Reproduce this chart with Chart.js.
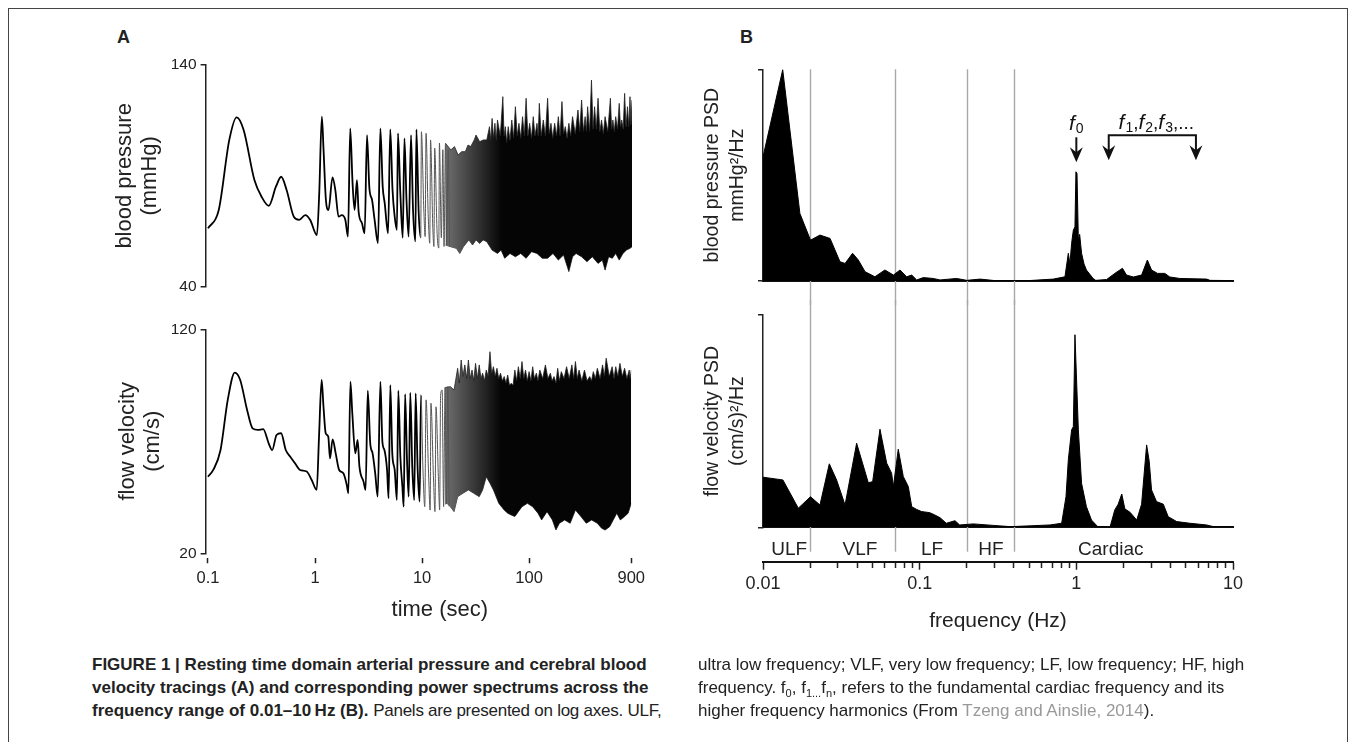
<!DOCTYPE html>
<html>
<head>
<meta charset="utf-8">
<script src="https://cdn.jsdelivr.net/npm/chart.js@4.4.1/dist/chart.umd.min.js"></script>
<style>
  html, body { margin: 0; padding: 0; background: #fff; width: 1355px; height: 742px; overflow: hidden;
    font-family: "Liberation Sans", Arial, sans-serif; color: #222; }
  #frame { position: absolute; left: 8px; top: 8px; width: 1338px; height: 820px; border: 1.5px solid #444; }
  canvas { position: absolute; }
  .panel { position: absolute; font-weight: bold; font-size: 18px; line-height: 20px; }
  .cap { position: absolute; font-size: 17px; line-height: 23px; white-space: nowrap; color: #222; }
  .cap sub { font-size: 11px; line-height: 0; }
  .ref { color: #999; }
</style>
</head>
<body>
<div id="frame"></div>
<div class="panel" style="left:117px;top:27px">A</div>
<div class="panel" style="left:740px;top:27px">B</div>

<canvas id="bp" width="570" height="265" style="left:80px;top:40px"></canvas>
<canvas id="cbv" width="570" height="340" style="left:80px;top:300px"></canvas>
<canvas id="bpPsd" width="570" height="265" style="left:690px;top:40px"></canvas>
<canvas id="cbvPsd" width="570" height="340" style="left:690px;top:300px"></canvas>

<div class="cap" style="left:92px;top:653px"><b>FIGURE 1 | Resting time domain arterial pressure and cerebral blood<br>velocity tracings (A) and corresponding power spectrums across the<br>frequency range of 0.01–10&#8201;Hz (B).</b> <span style="letter-spacing:-0.25px">Panels are presented on log axes. ULF,</span></div>
<div class="cap" style="left:698px;top:653px">ultra low frequency; VLF, very low frequency; LF, low frequency; HF, high<br>frequency. f<sub>0</sub>, f<sub>1...</sub>f<sub>n</sub>, refers to the fundamental cardiac frequency and its<br>higher frequency harmonics (From <span class="ref">Tzeng and Ainslie, 2014</span>).</div>

<script>
// panel A: time (s) vs value
const bpTrace = [[0.1,66.3],[0.126,74.6],[0.158,106.2],[0.185,116.4],[0.215,110.7],[0.271,88.1],[0.316,80.6],[0.369,76.5],[0.43,85.1],[0.482,89.6],[0.541,83.6],[0.631,71.6],[0.708,70.1],[0.807,72.3],[0.898,70.1],[1.037,63.3],[1.09,82.1],[1.153,116.7],[1.196,101.7],[1.258,79.1],[1.33,74.6],[1.45,89.3],[1.54,83.6],[1.65,71.6],[1.77,72.3],[1.91,70.1],[2.02,62.6],[2.12,111.4],[2.23,86.6],[2.33,74.6],[2.45,88.1],[2.54,73.8],[2.73,68.6],[2.89,64.1],[3.04,108.4],[3.2,84.4],[3.39,79.1],[3.58,70.1],[3.85,59.6],[4.05,111.4],[4.26,85.1],[4.45,77.6],[4.78,64.1],[5.01,111],[5.26,83.6],[5.51,71.6],[5.78,65.6],[5.91,109.2],[6.22,82.1],[6.55,62.1],[6.79,106.9],[7.1,79.1],[7.43,62.6],[7.82,108.4],[8.17,74.6],[8.59,60.4],[8.78,111],[9.23,73.1],[9.64,62.1],[9.78,109.9],[10.3,74.6],[10.6,62.6],[10.8,109.2],[11.3,73.1],[11.7,59.6],[11.9,106.2],[12.5,66.3],[12.8,58.1],[13.0,102.5],[13.7,64.1],[14.2,57.4],[14.4,104.8],[15.0,62.1],[15.5,101.8],[15.9,58.1],[16.4,104.7],[16.8,58.8],[17.4,101.7],[17.9,58]];
const bpUpper = [[16.4,104.7],[18.4,101.7],[19.9,103.2],[21.5,99.4],[23.2,100.9],[25.1,100.9],[26.6,103.9],[28.2,103.2],[30.4,106.2],[31.6,108.4],[34.2,105.4],[36.8,106.2],[39.8,106.2],[42.2,112.2],[43.4,106],[44.6,115.9],[46,107],[47.4,113.7],[48.8,106],[50.1,115.2],[53.2,108],[56.2,125.7],[57.7,108],[59.3,112.2],[61,105],[63.1,112.2],[65.5,106],[68.1,115.2],[70.8,107],[73.6,121.2],[76.5,108],[79.4,113.7],[82.6,107],[85.8,116.7],[89.2,108],[92.6,125],[96.2,108],[100,113.7],[104,107],[108,116.7],[112,108],[117,113.7],[120,108],[123,122.7],[128,108],[134,115.2],[140,108],[147,125],[152,109],[158,113.7],[164,107],[171,113.7],[178,108],[185,116.7],[192,108],[200,123.5],[207,109],[215,112.2],[223,107],[232,113.7],[241,108],[251,116.7],[266,109],[282,119.7],[293,110],[305,124.2],[317,110],[329,116.7],[338,110],[347,121.2],[362,110],[377,133.2],[390,111],[403,121.2],[418,111],[434,125],[451,110],[468,115.2],[486,109],[505,116.7],[535,110],[566,125],[581,111],[597,115.2],[615,110],[634,116.7],[659,111],[684,122.7],[703,112],[722,115.2],[745,111],[768,127.2],[792,112],[817,121.2],[840,112],[862,125.7],[880,113],[900,124.2]];
const bpLower = [[16.4,58.8],[18.4,58.0],[20.7,57.3],[22.3,55.0],[24.1,58.0],[27.1,61.1],[29.3,58.8],[31.6,61.1],[34.2,59.5],[36.8,61.1],[39.8,60.3],[44.6,56.5],[50.1,55.0],[54.1,56.5],[58.5,52.8],[65.6,55.0],[73.6,53.5],[82.5,55.0],[92.6,52.8],[104,55.8],[117,55.0],[131,52.8],[147,52.8],[165,55.0],[185,52.0],[207,54.3],[232,46.8],[251,53.5],[271,55.0],[305,53.5],[342,51.3],[384,53.5],[434,50.5],[476,52.0],[505,47.5],[545,53.5],[590,52.8],[634,55.0],[684,52.0],[741,55.0],[800,56.5],[862,57.3],[900,58.0]];

const cbvTrace = [[0.1,54.2],[0.112,57.2],[0.131,66.1],[0.153,88.5],[0.178,100.7],[0.2,97.4],[0.232,84],[0.261,75.8],[0.293,75.1],[0.328,75.4],[0.369,69.1],[0.398,66.1],[0.437,72.8],[0.482,73.6],[0.533,66.1],[0.585,63.2],[0.65,60.2],[0.724,57.2],[0.836,56.5],[0.931,52.7],[1.037,48.3],[1.09,72.1],[1.153,97.4],[1.2,85.4],[1.258,73.6],[1.33,72.1],[1.38,62.4],[1.46,70.9],[1.56,64.6],[1.68,57.2],[1.84,55.7],[1.98,50.5],[2.05,46.8],[2.14,96.6],[2.23,82.5],[2.38,64.6],[2.5,70.6],[2.6,58.7],[2.84,52],[2.97,48.3],[3.11,92.6],[3.28,69.1],[3.45,64.6],[3.65,55.7],[3.85,45.3],[4.08,96.6],[4.26,69.8],[4.45,66.1],[4.71,57.2],[4.87,44.6],[5.05,95.1],[5.27,64.6],[5.55,57.2],[5.82,43.8],[6.0,92.6],[6.27,63.1],[6.55,49.7],[6.74,40.8],[6.94,91.1],[7.25,60.2],[7.5,45.3],[7.76,91.7],[8.1,58.7],[8.45,43.8],[8.71,91.4],[9.1,57.2],[9.49,43.1],[9.77,90.7],[10.2,57.2],[10.6,40.8],[10.9,88.5],[11.5,55.7],[11.9,39.3],[12.1,87],[12.8,52.7],[13.2,38.6],[13.5,85.4],[14.2,54.2],[14.6,39.3],[14.9,90.7],[15.4,92.9],[15.9,40.8],[16.4,94],[16.9,42],[17.4,94.4],[17.9,41]];
const cbvUpper = [[16.4,94],[18.4,94.4],[19.9,92.9],[21.5,102.6],[22.3,96],[23.2,106.3],[24.1,99],[25.1,104.1],[26.1,98],[27.1,106.3],[28.2,98],[29.3,101.8],[30.4,97],[31.6,104.8],[32.9,98],[34.2,104.1],[35.5,98],[36.8,100.4],[38.3,97],[39.8,101.8],[41.4,99],[43.1,110],[44.7,100],[46.4,103.3],[48.2,99],[50.1,102.6],[52,98],[54.1,100.4],[56.3,97],[58.5,98.9],[60.8,96],[63.1,99.6],[65.6,95],[68.1,95.9],[70.8,95],[73.6,101.8],[76.5,97],[79.4,103.3],[82.6,98],[85.8,105.6],[89.2,98],[92.6,101.8],[96.2,97],[100,101.1],[104,97],[108,103.3],[112,98],[117,100.4],[121,97],[126,101.8],[134,98],[142,104.1],[150,98],[158,100.4],[164,97],[171,98.9],[178,96],[185,102.6],[192,97],[200,101.1],[212,98],[224,103.3],[237,98],[251,104.1],[261,98],[271,105.6],[282,98],[293,101.8],[311,97],[329,101.8],[348,97],[368,98.9],[383,97],[398,101.1],[416,98],[434,102.6],[460,98],[486,104.1],[505,99],[525,107.1],[561,99],[597,103.3],[621,98],[645,103.3],[675,99],[706,104.8],[743,99],[780,102.6],[820,98],[862,101.8],[880,98],[900,101.8]];
const cbvLower = [[16.4,42],[17.1,42.3],[18.4,40.8],[19.9,38.6],[21.5,45.3],[24.1,46.8],[27.1,48.3],[30.4,46.8],[34.2,45.3],[36.8,48.3],[39.8,54.2],[43.1,51.3],[46.4,48.3],[52.1,42.3],[58.5,39.3],[63.1,37.9],[68.1,37.1],[73.6,36.4],[79.4,38.6],[85.8,40.8],[96.4,42.3],[108,40.8],[121,37.9],[131,34.9],[147,38.6],[165,34.9],[178,30.4],[192,33.4],[215,34.9],[242,33.4],[271,39.3],[305,36.4],[342,33.4],[384,34.9],[434,33.4],[476,31.2],[513,30.4],[566,31.9],[611,34.9],[660,37.9],[711,34.9],[780,36.4],[842,37.9],[900,42.3]];

// panel B: frequency (Hz) vs power, arbitrary units (0-100 = axis height)
const bpPsd = [[0.01,58.6],[0.01336,99.8],[0.0172,31.9],[0.0201,19.3],[0.0231,21.7],[0.0268,20.1],[0.031,9.1],[0.0334,8.3],[0.0373,13.1],[0.0406,9.9],[0.0448,4.4],[0.0518,2.0],[0.06,5.2],[0.068,2.8],[0.0749,5.2],[0.0826,2.0],[0.089,2.8],[0.0957,0.5],[0.1055,1.6],[0.122,1.2],[0.135,0.5],[0.172,1.2],[0.2,0.3],[0.243,0.9],[0.3,0.2],[0.5,0.2],[0.713,0.9],[0.846,2],[0.889,13.1],[0.91,8],[0.933,17.8],[0.957,24],[0.98,25.6],[0.994,51.6],[1.01,50.8],[1.03,19.3],[1.05,22],[1.08,13.1],[1.12,8],[1.16,5.2],[1.28,1.2],[1.33,0.3],[1.56,0.7],[1.76,3.6],[1.97,6],[2.09,2.8],[2.31,1.9],[2.61,2.8],[2.84,9.9],[3.02,5.2],[3.3,3.6],[3.67,3.6],[3.95,1.9],[4.58,1.2],[6.79,0.9],[7.13,0.3],[10,0.2]];
const cbvPsd = [[0.01,23.6],[0.0134,22.3],[0.0168,9],[0.0201,14.4],[0.0231,10.5],[0.0265,29.9],[0.0295,22.3],[0.0334,10.5],[0.0396,39.6],[0.047,21],[0.0501,21.5],[0.0558,46.2],[0.0616,30.2],[0.0662,25.5],[0.068,19.2],[0.073,36.8],[0.0786,23.9],[0.0846,19.2],[0.089,9.7],[0.0957,8.4],[0.103,7.4],[0.116,6.9],[0.125,5.8],[0.135,4.5],[0.148,1.9],[0.168,3.1],[0.18,1.1],[0.22,1.6],[0.295,0.9],[0.38,0.3],[0.679,1.1],[0.806,1.9],[0.859,14.4],[0.889,31.8],[0.933,45.9],[0.957,47.4],[0.98,90.7],[1.0,72.6],[1.03,45.9],[1.08,20.7],[1.16,9.7],[1.25,3.4],[1.37,0.3],[1.64,0],[1.76,8.2],[1.85,10.9],[1.95,15.7],[2.04,8.7],[2.2,7.1],[2.43,3.4],[2.61,10.9],[2.7,23.9],[2.81,38.8],[2.92,31],[3.02,17.6],[3.25,12.1],[3.59,10.9],[3.86,5],[4.37,2.7],[5.31,1.9],[6.79,1.1],[7.5,0.3],[10,0.2]];

const TIME_TICKS = [0.1, 1, 10, 100, 900];
const FREQ_DECADES = [0.01, 0.1, 1];
const FREQ_MAJOR = [0.01, 0.1, 1, 10];
const BAND_EDGES = [0.02, 0.07, 0.2, 0.4];
const BAND_NAMES = ['ULF', 'VLF', 'LF', 'HF', 'Cardiac'];
const BAND_LABEL_AT = [0.0147, 0.0416, 0.12, 0.285, 1.66];
const F0_AT = 1;
const HARMONIC_SPAN = [1.61, 5.8];

const FONT = '"Liberation Sans", Arial, sans-serif';
Chart.defaults.font.family = FONT;
Chart.defaults.color = '#222';
Chart.defaults.animation = false;
Chart.defaults.plugins.legend.display = false;
Chart.defaults.plugins.tooltip.enabled = false;

const xy = arr => arr.map(([x, y]) => ({x, y}));
const freqTicks = FREQ_DECADES.flatMap(d => [1, 2, 3, 4, 5, 6, 7, 8, 9].map(m => +(m * d).toPrecision(3))).concat([10]);

function bracketAxis(min, max, title, o) {
  return {
    min, max,
    afterBuildTicks: s => { s.ticks = [{value: min}, {value: max}]; },
    afterFit: s => { s.width = o.width; },
    ticks: {display: o.labels, font: {size: 15.5}, padding: 4},
    grid: {drawOnChartArea: false, tickLength: 5, color: '#222', lineWidth: 1.5},
    border: {display: true, color: '#222', width: 1.5},
    title: {display: true, text: title, font: {size: o.size, lineHeight: o.lh}, padding: {top: o.pad, bottom: 0}}
  };
}

// dense part of the tracing: grey where beats are still apart, black later
function bandFill(context) {
  const chart = context.chart;
  if (!chart.chartArea) return '#000';
  const x = chart.scales.x;
  const g = chart.ctx.createLinearGradient(x.getPixelForValue(15), 0, x.getPixelForValue(55), 0);
  g.addColorStop(0, '#777');
  g.addColorStop(1, '#050505');
  return g;
}

function traceSets(trace, upper, lower) {
  return [
    {data: xy(trace), borderColor: '#000', borderWidth: 1.8, pointRadius: 0, cubicInterpolationMode: 'monotone',
      segment: {borderColor: c => c.p0.parsed.x >= 9.5 ? '#555' : undefined,
                borderWidth: c => c.p0.parsed.x >= 9.5 ? 1 : undefined}},
    {data: xy(upper), borderColor: '#222', borderWidth: 0.8, pointRadius: 0, fill: '+1', backgroundColor: bandFill},
    {data: xy(lower), borderColor: '#222', borderWidth: 0.8, pointRadius: 0, fill: false}
  ];
}

new Chart(document.getElementById('bp'), {
  type: 'line',
  data: {datasets: traceSets(bpTrace, bpUpper, bpLower)},
  options: {
    responsive: false, devicePixelRatio: 1,
    layout: {padding: {top: 25, right: 18, bottom: 18.3, left: 0}},
    scales: {
      x: {type: 'logarithmic', min: 0.095, max: 900, display: false},
      y: bracketAxis(40, 140, ['blood pressure', '(mmHg)'], {width: 125.6, labels: true, size: 22, lh: 1.15, pad: 32})
    }
  }
});

new Chart(document.getElementById('cbv'), {
  type: 'line',
  data: {datasets: traceSets(cbvTrace, cbvUpper, cbvLower)},
  options: {
    responsive: false, devicePixelRatio: 1,
    layout: {padding: {top: 29.3, right: 18, bottom: 0, left: 0}},
    scales: {
      x: {
        type: 'logarithmic', min: 0.095, max: 900,
        afterBuildTicks: s => { s.ticks = TIME_TICKS.map(value => ({value})); },
        afterFit: s => { s.height = 86.7; },
        ticks: {callback: v => String(v), font: {size: 16.5}, padding: 5, autoSkip: false, maxRotation: 0},
        grid: {drawOnChartArea: false, tickLength: 10, tickBorderDash: [0, 5, 5], tickColor: '#222', tickWidth: 1.5},
        border: {display: false},
        title: {display: true, text: '       time (sec)', font: {size: 22}, padding: {top: 0, bottom: 17}}
      },
      y: bracketAxis(20, 120, ['flow velocity', '(cm/s)'], {width: 125.6, labels: true, size: 22, lh: 1.15, pad: 35})
    }
  }
});

function drawBandLines(chart, y1, y2) {
  const {ctx} = chart, x = chart.scales.x;
  ctx.save();
  ctx.strokeStyle = '#a8a8a8';
  ctx.lineWidth = 1.4;
  BAND_EDGES.forEach(f => {
    const px = Math.round(x.getPixelForValue(f)) + 0.5;
    ctx.beginPath(); ctx.moveTo(px, y1); ctx.lineTo(px, y2); ctx.stroke();
  });
  ctx.restore();
}

function drawRich(ctx, parts, cx, baseline) {
  const fonts = {i: 'italic 21px ' + FONT, s: '14px ' + FONT, n: '19px ' + FONT};
  let w = 0;
  parts.forEach(([t, k]) => { ctx.font = fonts[k]; w += ctx.measureText(t).width + (k === 'i' ? 1 : 0); });
  let x = cx - w / 2;
  ctx.textAlign = 'left';
  ctx.textBaseline = 'alphabetic';
  parts.forEach(([t, k]) => {
    ctx.font = fonts[k];
    ctx.fillText(t, x, baseline + (k === 's' ? 3 : 0));
    x += ctx.measureText(t).width + (k === 'i' ? 1 : 0);
  });
}

function arrowHead(ctx, x, tip) {
  ctx.beginPath();
  ctx.moveTo(x, tip);
  ctx.lineTo(x - 6.5, tip - 15);
  ctx.lineTo(x, tip - 10);
  ctx.lineTo(x + 6.5, tip - 15);
  ctx.closePath();
  ctx.fill();
}

const harmonicMarks = {
  id: 'harmonicMarks',
  afterDatasetsDraw(chart) {
    const {ctx} = chart, xs = chart.scales.x, top = chart.chartArea.top;
    ctx.save();
    ctx.fillStyle = '#111';
    ctx.strokeStyle = '#111';
    ctx.lineWidth = 2;
    const x0 = xs.getPixelForValue(F0_AT);
    drawRich(ctx, [['f', 'i'], ['0', 's']], x0, top + 61);
    ctx.beginPath(); ctx.moveTo(x0, top + 68); ctx.lineTo(x0, top + 84); ctx.stroke();
    arrowHead(ctx, x0, top + 93);
    const xa = xs.getPixelForValue(HARMONIC_SPAN[0]), xb = xs.getPixelForValue(HARMONIC_SPAN[1]);
    drawRich(ctx, [['f', 'i'], ['1', 's'], [',', 'n'], ['f', 'i'], ['2', 's'], [',', 'n'], ['f', 'i'], ['3', 's'], [',...', 'n']], (xa + xb) / 2 + 4, top + 60);
    ctx.beginPath();
    ctx.moveTo(xa, top + 83); ctx.lineTo(xa, top + 66); ctx.lineTo(xb, top + 66); ctx.lineTo(xb, top + 83);
    ctx.stroke();
    arrowHead(ctx, xa, top + 91);
    arrowHead(ctx, xb, top + 91);
    ctx.restore();
  }
};

function psdY(title) {
  return bracketAxis(0, 100, title, {width: 73, labels: false, size: 19.5, lh: 1.28, pad: 10.5});
}

const psdSet = data => ({data: xy(data), borderColor: '#000', borderWidth: 1, pointRadius: 0, tension: 0,
  fill: 'origin', backgroundColor: '#000'});

new Chart(document.getElementById('bpPsd'), {
  type: 'line',
  data: {datasets: [psdSet(bpPsd)]},
  options: {
    responsive: false, devicePixelRatio: 1,
    layout: {padding: {top: 29.3, right: 27, bottom: 24, left: 0}},
    scales: {
      x: {type: 'logarithmic', min: 0.01, max: 10, z: 1,
        afterFit: s => { s.height = 0; },
        ticks: {display: false}, grid: {display: false},
        border: {display: true, color: '#111', width: 2}},
      y: psdY(['blood pressure PSD', 'mmHg\u00b2/Hz'])
    }
  },
  plugins: [{
    id: 'bandLinesTop',
    beforeDatasetsDraw(chart) { drawBandLines(chart, chart.chartArea.top, chart.height); }
  }, harmonicMarks]
});

new Chart(document.getElementById('cbvPsd'), {
  type: 'line',
  data: {datasets: [psdSet(cbvPsd)]},
  options: {
    responsive: false, devicePixelRatio: 1,
    layout: {padding: {top: 15, right: 27, bottom: 0, left: 0}},
    scales: {
      x: {type: 'logarithmic', min: 0.01, max: 10, z: 1, weight: 0,
        afterFit: s => { s.height = 34.4; },
        ticks: {display: false}, grid: {display: false},
        border: {display: true, color: '#111', width: 2}},
      x2: {type: 'logarithmic', position: 'bottom', min: 0.01, max: 10, weight: 1,
        afterBuildTicks: s => { s.ticks = freqTicks.map(value => ({value})); },
        afterFit: s => { s.height = 78.3; },
        ticks: {autoSkip: false, maxRotation: 0, font: {size: 18}, padding: 4,
          callback: v => FREQ_MAJOR.includes(v) ? String(v) : ''},
        grid: {drawOnChartArea: false, tickLength: 8, tickWidth: 1.5, tickColor: '#222',
          tickBorderDash: c => FREQ_MAJOR.includes(c.tick.value) ? [] : [5, 20]},
        border: {display: true, color: '#111', width: 2},
        title: {display: true, text: 'frequency (Hz)', font: {size: 21}, padding: {top: 0, bottom: 6}}},
      y: psdY(['flow velocity PSD', '(cm/s)\u00b2/Hz'])
    }
  },
  plugins: [{
    id: 'bandLinesBottom',
    beforeDatasetsDraw(chart) { drawBandLines(chart, 0, chart.scales.x.bottom - 10); },
    afterDraw(chart) {
      const {ctx} = chart, x = chart.scales.x;
      ctx.save();
      ctx.font = '19px ' + FONT;
      ctx.fillStyle = '#222';
      ctx.textAlign = 'center';
      ctx.textBaseline = 'middle';
      BAND_NAMES.forEach((n, i) => ctx.fillText(n, x.getPixelForValue(BAND_LABEL_AT[i]), chart.chartArea.bottom + 22));
      ctx.restore();
    }
  }]
});
</script>
</body>
</html>
